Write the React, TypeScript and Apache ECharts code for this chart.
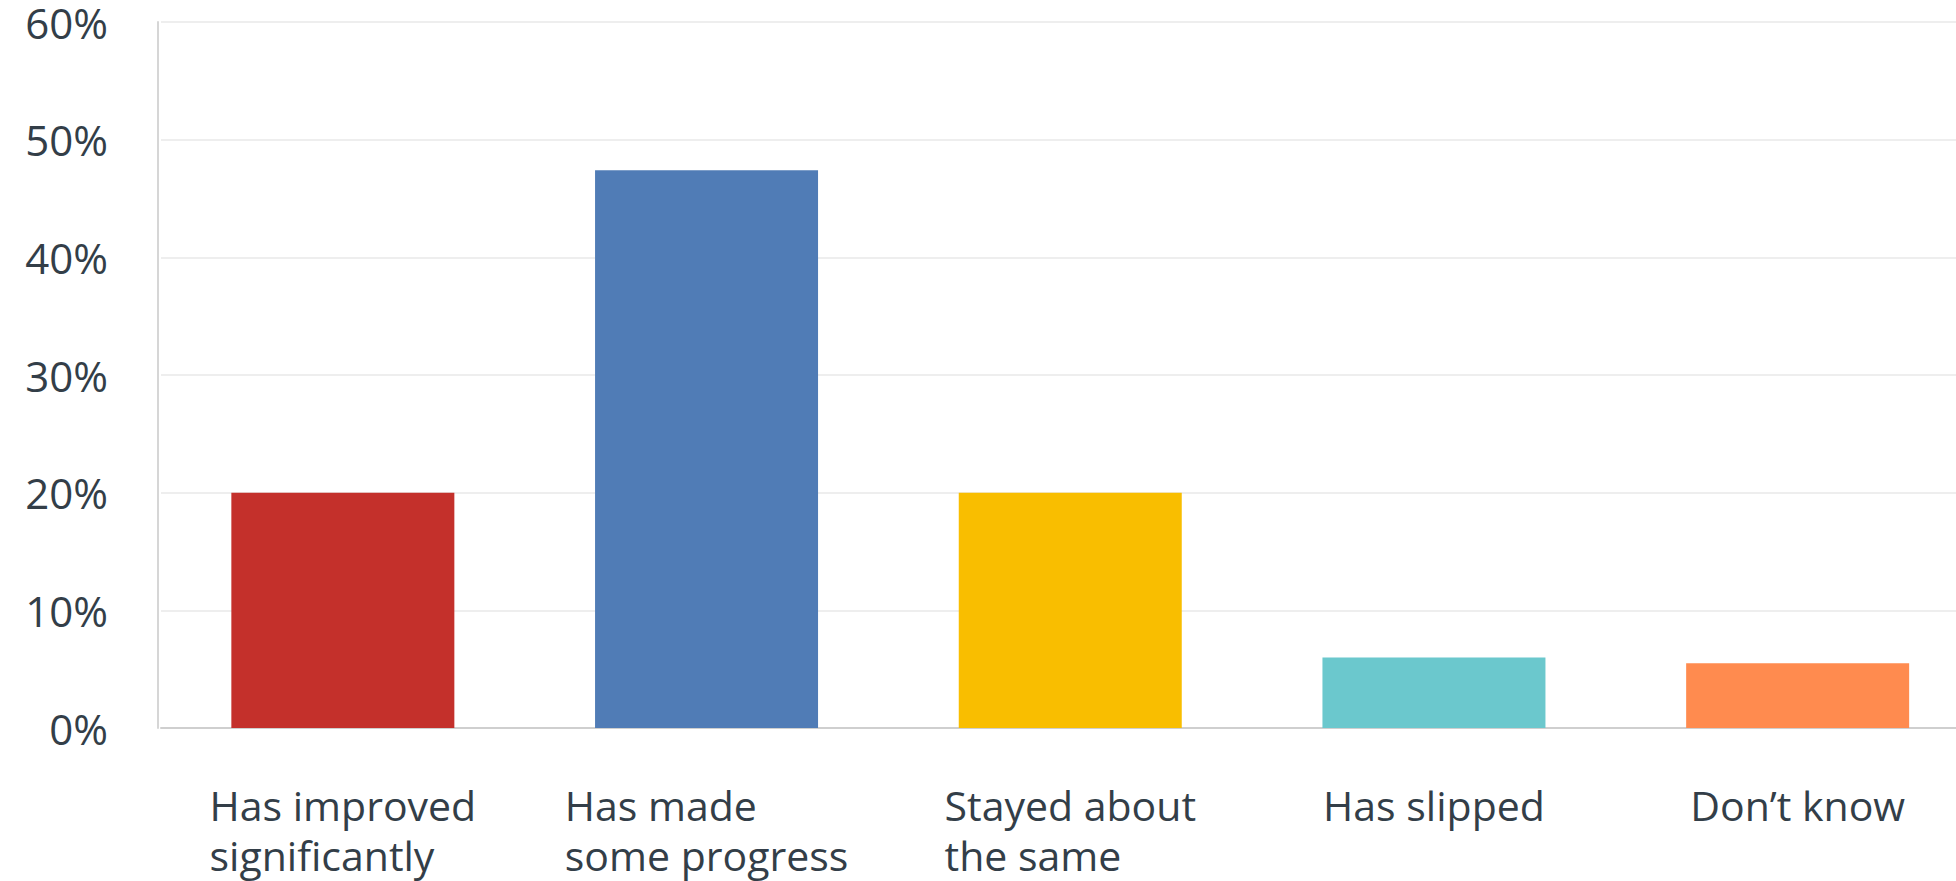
import React, { useEffect, useRef } from "react";
import * as echarts from "echarts";

const categories = [
  "Has improved\nsignificantly",
  "Has made\nsome progress",
  "Stayed about\nthe same",
  "Has slipped",
  "Don’t know",
];
const values = [20.0, 47.4, 20.0, 6.0, 5.5];
const barColors = ["#C4302B", "#507CB6", "#F9BE00", "#6BC8CD", "#FF8B4F"];
const yTicks = { min: 0, max: 60, interval: 10 };

const FONT = "'Open Sans'";
const TEXT = "#333E48";

export default function App() {
  const ref = useRef<HTMLDivElement>(null);
  useEffect(() => {
    if (!ref.current) return;
    const chart = echarts.init(ref.current, undefined, { renderer: "svg" });
    chart.setOption({
      animation: false,
      backgroundColor: "#ffffff",
      grid: { left: 161, top: 22, width: 1818.5, height: 706, containLabel: false },
      xAxis: {
        type: "category",
        data: categories,
        axisLine: { show: true, lineStyle: { color: "#CFCFCF", width: 2 } },
        axisTick: { show: false },
        splitLine: { show: false },
        axisLabel: {
          interval: 0,
          align: "center",
          verticalAlign: "top",
          margin: 52,
          formatter: (v: string) => v.split("\n").map((s) => `{l|${s}}`).join("\n"),
          rich: {
            l: {
              align: "left",
              fontSize: 41,
              lineHeight: 50,
              color: TEXT,
              fontFamily: FONT,
            },
          },
        },
      },
      yAxis: {
        type: "value",
        min: yTicks.min,
        max: yTicks.max,
        interval: yTicks.interval,
        offset: 3,
        axisLine: { show: true, lineStyle: { color: "#D6D6D6", width: 2 } },
        axisTick: { show: false },
        splitLine: { show: true, lineStyle: { color: "#EEEEEE", width: 2 } },
        axisLabel: {
          formatter: "{value}%",
          fontSize: 42,
          color: TEXT,
          fontFamily: FONT,
          margin: 50,
          padding: [6, 0, 0, 0],
        },
      },
      series: [
        {
          type: "bar",
          barWidth: 223,
          data: values.map((v, i) => ({ value: v, itemStyle: { color: barColors[i] } })),
        },
      ],
    });
    return () => chart.dispose();
  }, []);
  return (
    <div
      style={{ position: "absolute", left: 0, top: 0, width: 1956, height: 881, overflow: "hidden", background: "#fff" }}
    >
      <div ref={ref} style={{ width: 2000, height: 881 }} />
    </div>
  );
}
